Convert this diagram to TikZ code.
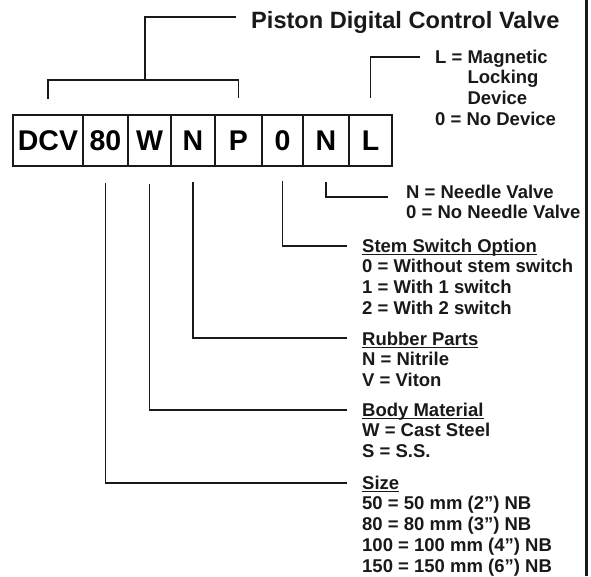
\documentclass[tikz,border=0pt]{standalone}
\usepackage{fontspec}
\setmainfont{Liberation Sans}
\newcommand{\optlines}[1]{\begin{tabular}[t]{@{}l@{}}#1\end{tabular}}
\newcommand{\ulhead}[1]{\setbox0\hbox{#1}\rlap{\rule[-3.3pt]{\wd0}{1.4pt}}\box0}
\begin{document}
\begin{tikzpicture}[x=1pt,y=-1pt,
  cell/.style={draw=black!90, line width=1.6pt, rectangle, inner sep=0pt, minimum height=51pt,
    font=\fontsize{28.5}{30}\selectfont\bfseries},
  opt/.style={anchor=base west, inner sep=0pt,
    font=\fontsize{18.5}{20.8}\selectfont\bfseries, text=black!90},
  ttl/.style={anchor=base west, inner sep=0pt, font=\fontsize{23.6}{26}\selectfont\bfseries, text=black!90},
  conn/.style={line width=1.6pt, draw=black!90}]
\useasboundingbox (0,0) rectangle (591,576);
% code cells
\node[cell, minimum width=70pt] (b1) at (48,140.5) {DCV};
\node[cell, minimum width=45pt] (b2) at (105.5,140.5) {80};
\node[cell, minimum width=43pt] (b3) at (149.5,140.5) {W};
\node[cell, minimum width=44pt] (b4) at (193,140.5) {N};
\node[cell, minimum width=47pt] (b5) at (238.5,140.5) {P};
\node[cell, minimum width=41pt] (b6) at (282.5,140.5) {0};
\node[cell, minimum width=46pt] (b7) at (326,140.5) {N};
\node[cell, minimum width=43pt] (b8) at (370.5,140.5) {L};
% texts
\node[ttl] (title) at (251,28) {Piston Digital Control Valve};
\node[opt] (lock) at (435,63) {\optlines{L = Magnetic\\\phantom{L = }Locking\\\phantom{L = }Device\\0 = No Device}};
\node[opt] (needle) at (406,198) {\optlines{N = Needle Valve\\0 = No Needle Valve}};
\node[opt] (stem) at (362,252) {\optlines{\ulhead{Stem Switch Option}\\0 = Without stem switch\\1 = With 1 switch\\2 = With 2 switch}};
\node[opt] (rubber) at (362,345) {\optlines{\ulhead{Rubber Parts}\\N = Nitrile\\V = Viton}};
\node[opt] (body) at (362,416) {\optlines{\ulhead{Body Material}\\W = Cast Steel\\S = S.S.}};
\node[opt] (size) at (362,489) {\optlines{\ulhead{Size}\\50 = 50 mm (2'') NB\\80 = 80 mm (3'') NB\\100 = 100 mm (4'') NB\\150 = 150 mm (6'') NB}};
% top bracket
\coordinate (tb) at (145,81);
\draw[conn] ([yshift=15pt]b1.north) -- ([yshift=34pt]b1.north) -| ([yshift=16pt]b5.north);
\draw[conn] (tb) |- ([xshift=-15pt,yshift=11pt]title.base west);
% connectors
\draw[conn] ([yshift=16pt]b8.north) |- ([xshift=-15pt,yshift=6pt]lock.base west);
\draw[conn] ([yshift=-15pt]b7.south) |- ([xshift=-18pt,yshift=1pt]needle.base west);
\draw[conn] ([yshift=-14pt]b6.south) |- ([xshift=-15pt,yshift=6pt]stem.base west);
\draw[conn] ([yshift=-15pt]b4.south) |- ([xshift=-15pt,yshift=7pt]rubber.base west);
\draw[conn] ([yshift=-17pt]b3.south) |- ([xshift=-15pt,yshift=6pt]body.base west);
\draw[conn] ([yshift=-16pt]b2.south) |- ([xshift=-15pt,yshift=6pt]size.base west);
% right frame line
\draw[line width=2.6pt, black!90] (586.5,0) -- (586.5,576);
\end{tikzpicture}
\end{document}
